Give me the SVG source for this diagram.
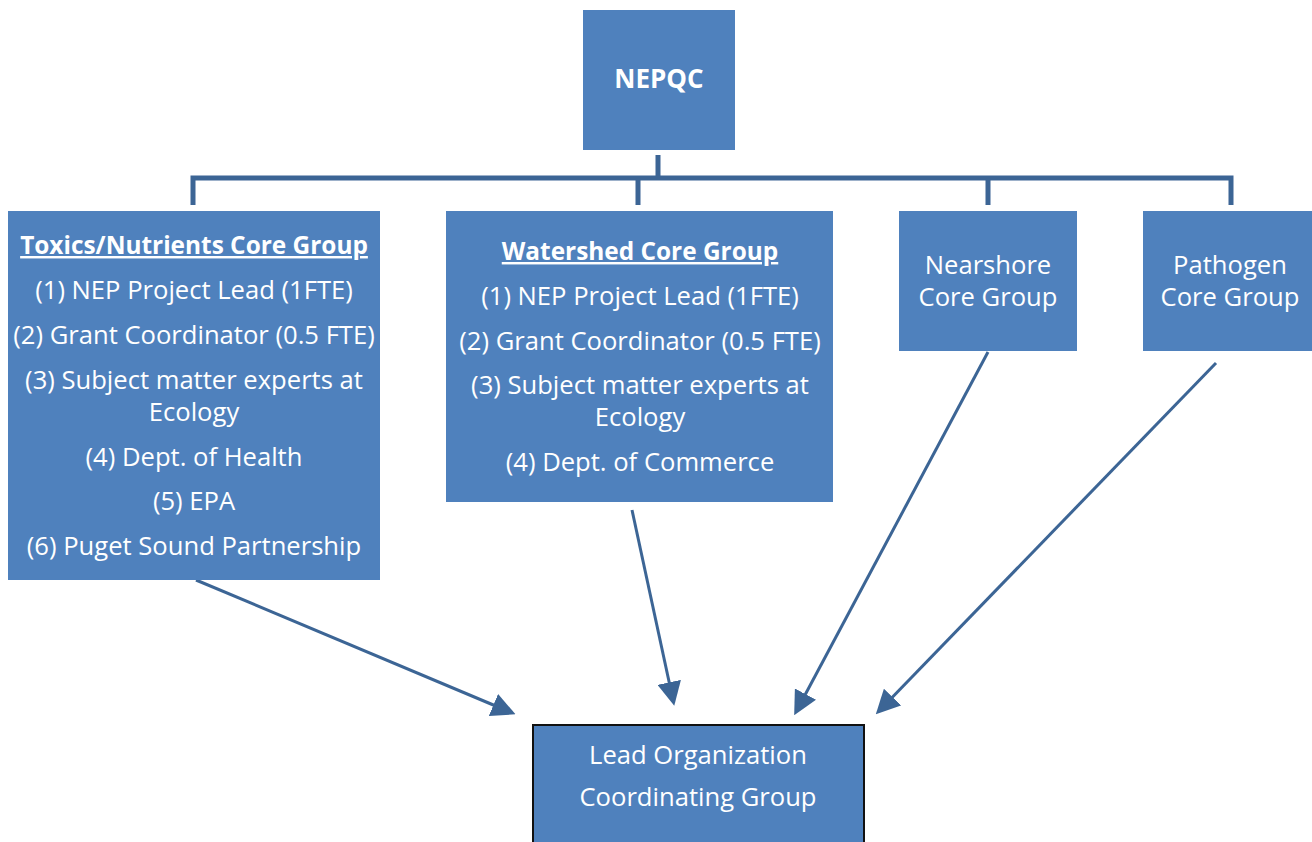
<svg xmlns="http://www.w3.org/2000/svg" width="1312" height="842" viewBox="0 0 1312 842">
<defs>
<style>
.box{fill:#4F81BD;}
.t{font-family:"Open Sans","Liberation Sans",sans-serif;font-size:25.6px;fill:#ffffff;text-anchor:middle;}
.b{font-weight:bold;font-size:24.4px;}
.u{text-decoration:underline;}
.bar{stroke:#3C6595;stroke-width:5;fill:none;}
.arr{stroke:#3C6595;stroke-width:3;fill:none;marker-end:url(#ah);}
</style>
<marker id="ah" markerWidth="8" markerHeight="8" refX="6" refY="4" orient="auto" markerUnits="strokeWidth">
<path d="M0,0 L8,4 L0,8 Z" fill="#3C6595"/>
</marker>
</defs>
<rect width="1312" height="842" fill="#ffffff"/>
<g id="connectors">
<path class="bar" d="M658,155 V178 M193,205 V178 H1231 V205 M638,178 V205 M988,178 V205"/>
<line class="arr" x1="196" y1="580" x2="510" y2="712"/>
<line class="arr" x1="632" y1="510" x2="673" y2="700"/>
<line class="arr" x1="988" y1="352" x2="797" y2="710"/>
<line class="arr" x1="1216" y1="363" x2="880" y2="710"/>
</g>
<g id="nepqc">
<rect class="box" x="583" y="10" width="152" height="140"/>
<text class="t b" x="659" y="88" style="font-size:26px">NEPQC</text>
</g>
<g id="toxics">
<rect class="box" x="8" y="211" width="372" height="369"/>
<text class="t b u" x="194" y="254">Toxics/Nutrients Core Group</text>
<text class="t" x="194" y="299">(1) NEP Project Lead (1FTE)</text>
<text class="t" x="194" y="344">(2) Grant Coordinator (0.5 FTE)</text>
<text class="t" x="194" y="389">(3) Subject matter experts at</text>
<text class="t" x="194" y="421">Ecology</text>
<text class="t" x="194" y="466">(4) Dept. of Health</text>
<text class="t" x="194" y="510">(5) EPA</text>
<text class="t" x="194" y="555">(6) Puget Sound Partnership</text>
</g>
<g id="watershed">
<rect class="box" x="446" y="211" width="387" height="291"/>
<text class="t b u" x="640" y="260">Watershed Core Group</text>
<text class="t" x="640" y="305">(1) NEP Project Lead (1FTE)</text>
<text class="t" x="640" y="350">(2) Grant Coordinator (0.5 FTE)</text>
<text class="t" x="640" y="394">(3) Subject matter experts at</text>
<text class="t" x="640" y="426">Ecology</text>
<text class="t" x="640" y="471">(4) Dept. of Commerce</text>
</g>
<g id="nearshore">
<rect class="box" x="899" y="211" width="178" height="140"/>
<text class="t" x="988" y="274">Nearshore</text>
<text class="t" x="988" y="306">Core Group</text>
</g>
<g id="pathogen">
<rect class="box" x="1143" y="211" width="169" height="140"/>
<text class="t" x="1230" y="274">Pathogen</text>
<text class="t" x="1230" y="306">Core Group</text>
</g>
<g id="lead">
<rect class="box" x="533" y="725" width="331" height="120" stroke="#111111" stroke-width="2"/>
<text class="t" x="698" y="764">Lead Organization</text>
<text class="t" x="698" y="806">Coordinating Group</text>
</g>
</svg>
